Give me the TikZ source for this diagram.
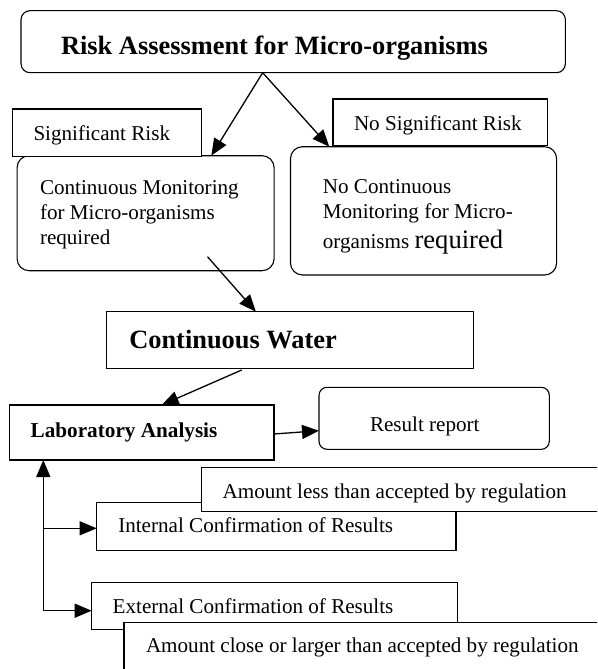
\documentclass[tikz,border=0pt]{standalone}
\usepackage{fontspec}
\setmainfont{Liberation Serif}
\usetikzlibrary{arrows.meta,calc}
\tikzset{
  box/.style={draw, line width=1.1pt, fill=white, inner sep=0pt, outer sep=0pt, anchor=north west},
  txt/.style={anchor=base west, inner sep=0pt, outer sep=0pt, font=\fontsize{21.1}{25}\selectfont},
  btxt/.style={anchor=base west, inner sep=0pt, outer sep=0pt, font=\fontsize{21.2}{25}\selectfont\bfseries},
  bigbtxt/.style={anchor=base west, inner sep=0pt, outer sep=0pt, font=\fontsize{26.4}{30}\selectfont\bfseries},
  tip/.tip={Triangle[length=17pt,width=14pt]},
  arr/.style={line width=1.3pt, -tip},
  darr/.style={line width=1.3pt, tip-tip},
}
\begin{document}
\begin{tikzpicture}[x=1pt,y=-1pt]
\useasboundingbox (0,0) rectangle (597,669);
\clip (0,0) rectangle (597,669);

% boxes
\node[box, rounded corners=9pt, minimum width=544.4pt, minimum height=62pt] (top) at (21,10.7) {};
\node[box, rounded corners=12pt, minimum width=257pt, minimum height=115pt] (cmon) at (17.1,155.7) {};
\node[box, rounded corners=12pt, minimum width=266.1pt, minimum height=128.3pt] (nocmon) at (290.5,146.7) {};
\node[box, minimum width=189.2pt, minimum height=47.7pt] (sig) at (12.6,109) {};
\node[box, minimum width=214.5pt, minimum height=46.7pt] (nosig) at (333,99) {};
\node[box, minimum width=366.6pt, minimum height=56.6pt] (cw) at (106.7,311.7) {};
\node[box, minimum width=264.7pt, minimum height=55pt] (lab) at (9.3,405) {};
\node[box, rounded corners=8pt, minimum width=230.3pt, minimum height=62pt] (res) at (319,387.3) {};
\node[box, minimum width=359.3pt, minimum height=48pt] (int) at (96.7,502.7) {};
\node[box, minimum width=405pt, minimum height=44.4pt] (less) at (201.7,467.3) {};
\node[box, minimum width=365.6pt, minimum height=46.6pt] (ext) at (91.7,582.7) {};
\node[box, minimum width=480pt, minimum height=60pt] (close) at (124,622.7) {};

% texts
\node[bigbtxt] (ttop) at (61,55) {Risk Assessment for Micro-organisms};
\node[txt] (tsig) at (33.5,140) {Significant Risk};
\node[txt] (tnosig) at (354,130) {No Significant Risk};
\node[txt] (tcm1) at (40,194) {Continuous Monitoring};
\node[txt] (tcm2) at (40,219) {for Micro-organisms};
\node[txt] (tcm3) at (40,244) {required};
\node[txt] (tnc1) at (322.9,193.3) {No Continuous};
\node[txt] (tnc2) at (322.9,218.3) {Monitoring for Micro-};
\node[txt] (tnc3) at (322.9,248.3) {organisms {\fontsize{26.6}{30}\selectfont required}};
\node[bigbtxt] (tcw) at (129.3,348.3) {Continuous Water};
\node[btxt] (tlab) at (30.7,437.3) {Laboratory Analysis};
\node[txt] (tres) at (370,431) {Result report};
\node[txt] (tless) at (222.7,498.3) {Amount less than accepted by regulation};
\node[txt] (tint) at (118.3,532.7) {Internal Confirmation of Results};
\node[txt] (text) at (112.7,613.3) {External Confirmation of Results};
\node[txt] (tclose) at (146,652.7) {Amount close or larger than accepted by regulation};

% connectors
\coordinate (apex) at ($(top.south west)+(241.7,0)$);
\draw[arr] (apex) -- ($(cmon.north west)+(194.2,0)$);
\draw[arr] (apex) -- ($(nocmon.north west)+(38.8,0)$);
\draw[arr] ($(cmon.north west)+(190.4,101)$) -- ($(cw.north west)+(149.2,0)$);
\draw[arr] ($(cw.south west)+(135,1.7)$) -- ($(lab.north west)+(152.4,0)$);
\draw[arr] ($(lab.north east)+(0,29)$) -- ($(res.north west)+(0,43.4)$);
\coordinate (corner) at (43.3,610.7);
\coordinate (branch) at (43.3,528.3);
\draw[darr] (corner |- lab.south) -- (corner) -- (ext.west |- corner);
\draw[arr] (branch) -- (int.west |- branch);
\end{tikzpicture}
\end{document}
